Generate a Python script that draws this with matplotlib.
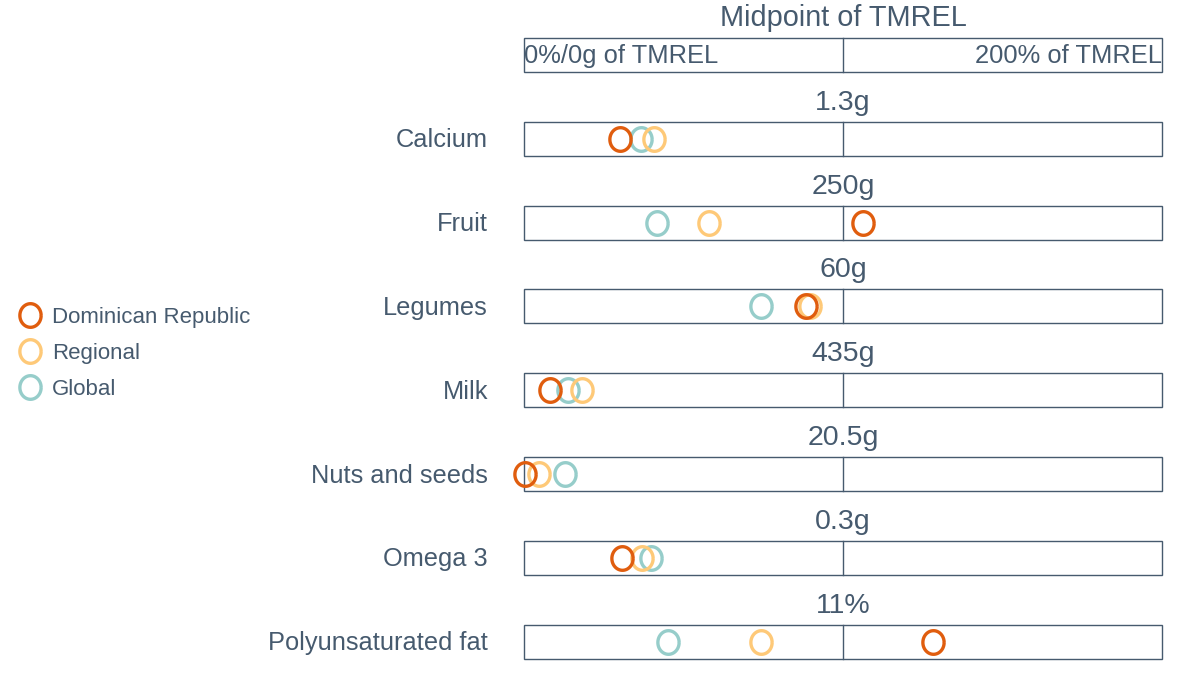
import numpy as np
import matplotlib.pyplot as plt
from matplotlib.patches import Rectangle
from matplotlib.path import Path
from matplotlib.lines import Line2D

plt.rcParams['font.family'] = ['Liberation Sans', 'DejaVu Sans']

# данные: доля от TMREL (0..200%)
categories = ["Calcium", "Fruit", "Legumes", "Milk", "Nuts and seeds", "Omega 3", "Polyunsaturated fat"]
tmrel_labels = ["1.3g", "250g", "60g", "435g", "20.5g", "0.3g", "11%"]
dominican = [30.0, 106.4, 88.4, 8.2, 0.4, 30.6, 128.2]
regional = [40.7, 58.1, 89.5, 18.1, 4.6, 37.0, 74.3]
global_ = [36.6, 41.6, 74.3, 13.9, 12.9, 39.9, 45.0]

series_names = ["Dominican Republic", "Regional", "Global"]
series_colors = ["#e05d0e", "#fec978", "#96cdca"]
text_color = "#465a6e"

# маркер-кольцо, чуть вытянутое по вертикали
t = np.linspace(0, 2 * np.pi, 60)
oval = Path(np.column_stack([0.9 * np.cos(t), np.sin(t)]))

fig = plt.figure(figsize=(12, 7), dpi=100)
row_px = 83.8
top_px = 55
ax = fig.add_axes([524 / 1200, 0, 638 / 1200, 1])
ax.set_xlim(0, 200)
ax.set_ylim((700 - top_px) / row_px, -top_px / row_px)
ax.axis("off")

h = 34 / row_px


def draw_box(y):
    ax.add_patch(Rectangle((0, y - h / 2), 200, h, fill=False, edgecolor=text_color, lw=1.0, clip_on=False))
    ax.plot([100, 100], [y - h / 2, y + h / 2], color=text_color, lw=1.0, clip_on=False)


# шапка
draw_box(0)
ax.text(100, -0.44, "Midpoint of TMREL", ha="center", va="center", fontsize=20.8, color=text_color)
ax.text(0, 0.01, "0%/0g of TMREL", ha="left", va="center", fontsize=18.4, color=text_color)
ax.text(200, 0.01, "200% of TMREL", ha="right", va="center", fontsize=18.4, color=text_color)

rows = np.arange(1, len(categories) + 1)
for y, cat, lab in zip(rows, categories, tmrel_labels):
    draw_box(y)
    ax.text(100, y - 0.43, lab, ha="center", va="center", fontsize=20.5, color=text_color)
    ax.text(-11.3, y + 0.02, cat, ha="right", va="center", fontsize=18.3, color=text_color)

for vals, c in zip([global_, regional, dominican], series_colors[::-1]):
    ax.plot(vals, rows, linestyle="none", marker=oval, markersize=17, markerfacecolor="none",
            markeredgecolor=c, markeredgewidth=2.4, clip_on=False)

handles = [Line2D([], [], linestyle="none", marker=oval, markersize=17, markerfacecolor="none",
                  markeredgecolor=c, markeredgewidth=2.4) for c in series_colors]
leg = fig.legend(handles, series_names, loc="center left", bbox_to_anchor=(-0.001, 0.495), frameon=False,
                 fontsize=16, handlelength=1.0, handletextpad=0.5, labelspacing=0.68)
for txt in leg.get_texts():
    txt.set_color(text_color)

fig.savefig("out.png", dpi=100)
